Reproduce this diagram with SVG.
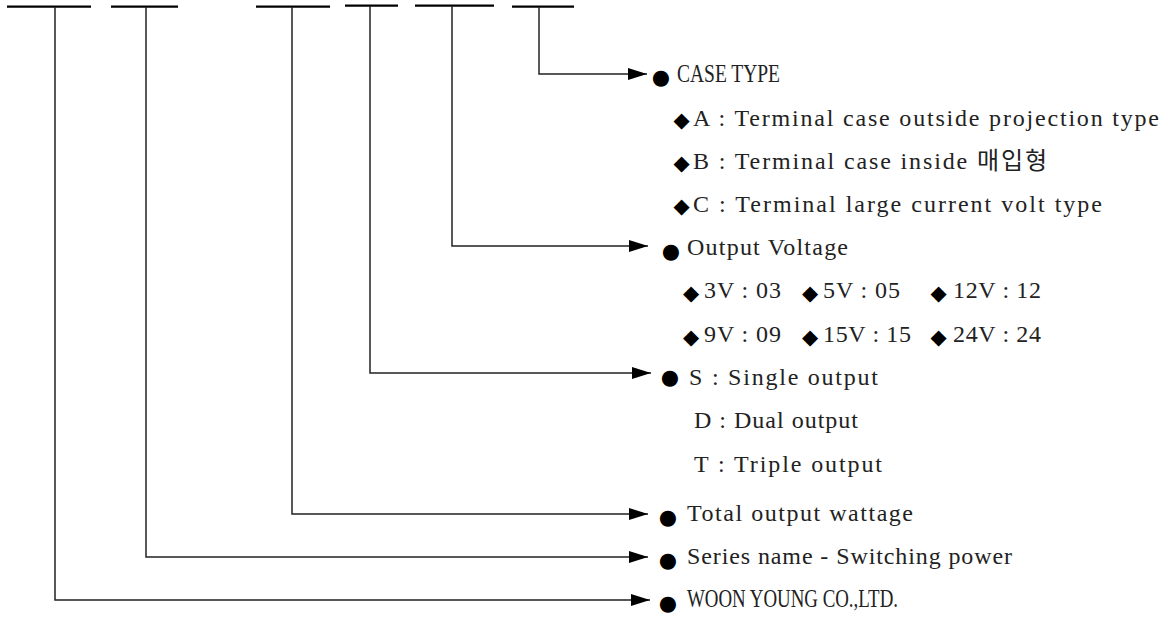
<svg xmlns="http://www.w3.org/2000/svg" width="1168" height="618" viewBox="0 0 1168 618">
<defs>
<marker id="ah" markerUnits="userSpaceOnUse" markerWidth="20" markerHeight="14" refX="19" refY="6" orient="auto">
<path d="M0,0 L19,6 L0,12 Z" fill="#000"/>
</marker>
<style>
.bar{stroke:#000;stroke-width:2.2;fill:none}
.con{stroke:#222;stroke-width:1.5;fill:none;marker-end:url(#ah)}
.t{font-family:"Liberation Serif","Noto Sans CJK KR",serif;font-size:24px;fill:#222}
.c{font-size:26px}
.b{font-family:"DejaVu Sans",sans-serif;font-size:21px;fill:#000;text-anchor:middle}
</style>
</defs>
<rect width="1168" height="618" fill="#fff"/>
<g id="bars">
<line class="bar" x1="7" y1="6.7" x2="91" y2="6.7"/>
<line class="bar" x1="111" y1="6.7" x2="178" y2="6.7"/>
<line class="bar" x1="256" y1="6.7" x2="330" y2="6.7"/>
<line class="bar" x1="345" y1="5.7" x2="398" y2="5.7"/>
<line class="bar" x1="415" y1="5.7" x2="494" y2="5.7"/>
<line class="bar" x1="512" y1="6.7" x2="574" y2="6.7"/>
</g>
<g id="connectors">
<path class="con" d="M539,7 V74 H647"/>
<path class="con" d="M452,6 V246 H648"/>
<path class="con" d="M370,6 V373 H651"/>
<path class="con" d="M292,7 V514 H648"/>
<path class="con" d="M146,7 V557 H648"/>
<path class="con" d="M55,7 V600 H650"/>
</g>
<g id="case-type">
<text class="b" x="661" y="84">●</text>
<text class="t c" x="677" y="82" textLength="103" lengthAdjust="spacingAndGlyphs">CASE TYPE</text>
<text class="b" x="681.5" y="127">◆</text>
<text class="t" x="693" y="126" textLength="466">A : Terminal case outside projection type</text>
<text class="b" x="681.5" y="170">◆</text>
<text class="t" x="693" y="169" textLength="354">B : Terminal case inside 매입형</text>
<text class="b" x="681.5" y="213">◆</text>
<text class="t" x="693" y="212" textLength="409">C : Terminal large current volt type</text>
</g>
<g id="output-voltage">
<text class="b" x="671" y="258">●</text>
<text class="t" x="687" y="255" textLength="161">Output Voltage</text>
<text class="b" x="691" y="300">◆</text>
<text class="t" x="704" y="298" textLength="77">3V : 03</text>
<text class="b" x="810" y="300">◆</text>
<text class="t" x="823" y="298" textLength="77">5V : 05</text>
<text class="b" x="938.5" y="300">◆</text>
<text class="t" x="953" y="298" textLength="88">12V : 12</text>
<text class="b" x="691" y="344">◆</text>
<text class="t" x="704" y="342" textLength="77">9V : 09</text>
<text class="b" x="810" y="344">◆</text>
<text class="t" x="823" y="342" textLength="88">15V : 15</text>
<text class="b" x="938.5" y="344">◆</text>
<text class="t" x="953" y="342" textLength="88">24V : 24</text>
</g>
<g id="output-type">
<text class="b" x="670" y="384">●</text>
<text class="t" x="689" y="385" textLength="189">S : Single output</text>
<text class="t" x="694" y="428" textLength="164">D : Dual output</text>
<text class="t" x="694" y="472" textLength="188">T : Triple output</text>
</g>
<g id="wattage">
<text class="b" x="668" y="524">●</text>
<text class="t" x="687" y="521" textLength="226">Total output wattage</text>
</g>
<g id="series">
<text class="b" x="668" y="567">●</text>
<text class="t" x="687" y="564" textLength="325">Series name - Switching power</text>
</g>
<g id="company">
<text class="b" x="668" y="610">●</text>
<text class="t c" x="687" y="607" textLength="211" lengthAdjust="spacingAndGlyphs">WOON YOUNG CO.,LTD.</text>
</g>
</svg>
